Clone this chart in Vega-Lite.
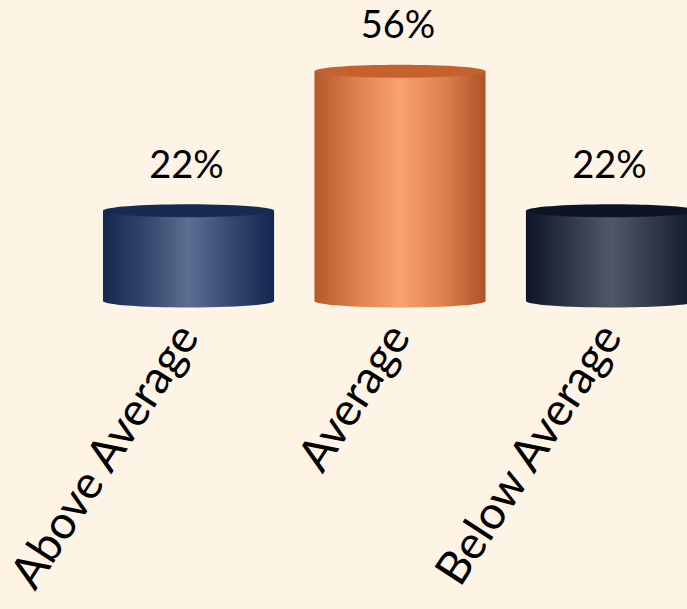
{
  "$schema": "https://vega.github.io/schema/vega-lite/v6.json",
  "autosize": "none",
  "width": 687,
  "height": 301,
  "padding": {"left": 0, "top": 0, "right": 0, "bottom": 308},
  "background": "#fdf4e6",
  "config": {"view": {"stroke": null}, "font": "Lato"},
  "data": {"values": [
    {"category": "Above Average", "share": 0.22},
    {"category": "Average", "share": 0.56},
    {"category": "Below Average", "share": 0.22}
  ]},
  "encoding": {
    "x": {"field": "category", "type": "nominal", "sort": null,
      "scale": {"range": [0, 800], "paddingInner": 0.191, "paddingOuter": 0.487},
      "axis": {"title": null, "domain": false, "ticks": false, "labelAngle": -57, "labelAlign": "right", "labelBaseline": "middle", "labelFont": "Lato", "labelFontSize": 46, "labelColor": "#000000", "labelPadding": 28, "labelLimit": 0, "labelOverlap": false, "labelFlush": false}}
  },
  "layer": [
    {"transform": [{"filter": "datum.category === 'Above Average'"}],
     "mark": {"type": "bar", "fill": {"gradient": "linear", "x1": 0, "x2": 1, "y1": 0, "y2": 0, "stops": [{"offset": 0, "color": "#16284e"}, {"offset": 0.25, "color": "#33466b"}, {"offset": 0.5, "color": "#5c6e90"}, {"offset": 0.75, "color": "#364870"}, {"offset": 1, "color": "#13264f"}]}},
     "encoding": {"y": {"field": "share", "type": "quantitative", "scale": {"domain": [0, 0.734]}, "axis": null}}},
    {"transform": [{"filter": "datum.category === 'Average'"}],
     "mark": {"type": "bar", "fill": {"gradient": "linear", "x1": 0, "x2": 1, "y1": 0, "y2": 0, "stops": [{"offset": 0, "color": "#b4582b"}, {"offset": 0.25, "color": "#de8150"}, {"offset": 0.5, "color": "#f9a172"}, {"offset": 0.75, "color": "#df814f"}, {"offset": 1, "color": "#ae5329"}]}},
     "encoding": {"y": {"field": "share", "type": "quantitative", "scale": {"domain": [0, 0.734]}, "axis": null}}},
    {"transform": [{"filter": "datum.category === 'Below Average'"}],
     "mark": {"type": "bar", "fill": {"gradient": "linear", "x1": 0, "x2": 1, "y1": 0, "y2": 0, "stops": [{"offset": 0, "color": "#0d1528"}, {"offset": 0.25, "color": "#2f3648"}, {"offset": 0.5, "color": "#515869"}, {"offset": 0.75, "color": "#31384a"}, {"offset": 1, "color": "#0e1628"}]}},
     "encoding": {"y": {"field": "share", "type": "quantitative", "scale": {"domain": [0, 0.734]}, "axis": null}}},
    {"transform": [{"filter": "datum.category === 'Above Average'"}],
     "mark": {"type": "point", "filled": true, "opacity": 1, "size": 29241, "shape": "M -1 0 C -1 -0.042 -0.552 -0.076 0 -0.076 C 0.552 -0.076 1 -0.042 1 0 C 1 0.042 0.552 0.076 0 0.076 C -0.552 0.076 -1 0.042 -1 0 Z", "fill": {"gradient": "linear", "x1": 0, "x2": 1, "y1": 0, "y2": 0, "stops": [{"offset": 0, "color": "#16284e"}, {"offset": 0.25, "color": "#33466b"}, {"offset": 0.5, "color": "#5c6e90"}, {"offset": 0.75, "color": "#364870"}, {"offset": 1, "color": "#13264f"}]}},
     "encoding": {"y": {"datum": 0, "type": "quantitative", "scale": {"domain": [0, 0.734]}, "axis": null}}},
    {"transform": [{"filter": "datum.category === 'Average'"}],
     "mark": {"type": "point", "filled": true, "opacity": 1, "size": 29241, "shape": "M -1 0 C -1 -0.042 -0.552 -0.076 0 -0.076 C 0.552 -0.076 1 -0.042 1 0 C 1 0.042 0.552 0.076 0 0.076 C -0.552 0.076 -1 0.042 -1 0 Z", "fill": {"gradient": "linear", "x1": 0, "x2": 1, "y1": 0, "y2": 0, "stops": [{"offset": 0, "color": "#b4582b"}, {"offset": 0.25, "color": "#de8150"}, {"offset": 0.5, "color": "#f9a172"}, {"offset": 0.75, "color": "#df814f"}, {"offset": 1, "color": "#ae5329"}]}},
     "encoding": {"y": {"datum": 0, "type": "quantitative", "scale": {"domain": [0, 0.734]}, "axis": null}}},
    {"transform": [{"filter": "datum.category === 'Below Average'"}],
     "mark": {"type": "point", "filled": true, "opacity": 1, "size": 29241, "shape": "M -1 0 C -1 -0.042 -0.552 -0.076 0 -0.076 C 0.552 -0.076 1 -0.042 1 0 C 1 0.042 0.552 0.076 0 0.076 C -0.552 0.076 -1 0.042 -1 0 Z", "fill": {"gradient": "linear", "x1": 0, "x2": 1, "y1": 0, "y2": 0, "stops": [{"offset": 0, "color": "#0d1528"}, {"offset": 0.25, "color": "#2f3648"}, {"offset": 0.5, "color": "#515869"}, {"offset": 0.75, "color": "#31384a"}, {"offset": 1, "color": "#0e1628"}]}},
     "encoding": {"y": {"datum": 0, "type": "quantitative", "scale": {"domain": [0, 0.734]}, "axis": null}}},
    {"mark": {"type": "point", "filled": true, "opacity": 1, "size": 29241, "shape": "M -1 0 C -1 -0.042 -0.552 -0.076 0 -0.076 C 0.552 -0.076 1 -0.042 1 0 C 1 0.042 0.552 0.076 0 0.076 C -0.552 0.076 -1 0.042 -1 0 Z"},
     "encoding": {
       "y": {"field": "share", "type": "quantitative", "scale": {"domain": [0, 0.734]}, "axis": null},
       "color": {"field": "category", "type": "nominal", "scale": {"domain": ["Above Average", "Average", "Below Average"], "range": ["#172a52", "#c5612c", "#0c1527"]}, "legend": null}}},
    {"mark": {"type": "text", "font": "Lato", "fontSize": 38, "color": "#000000", "baseline": "alphabetic", "dy": -33, "dx": -2},
     "encoding": {
       "y": {"field": "share", "type": "quantitative", "scale": {"domain": [0, 0.734]}, "axis": null},
       "text": {"field": "share", "type": "quantitative", "format": ".0%"}}}
  ]
}
